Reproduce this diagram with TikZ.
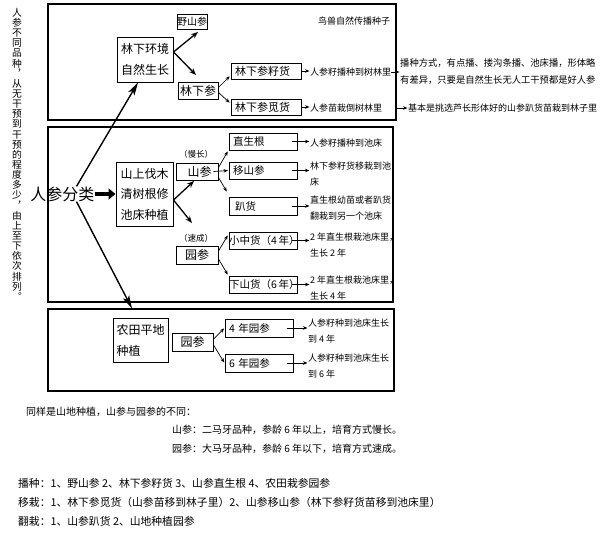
\documentclass[tikz,border=0pt]{standalone}
\usepackage{fontspec}
\setmainfont{Noto Sans CJK SC}
\usetikzlibrary{arrows.meta}
\begin{document}
\begin{tikzpicture}[x=1pt,y=-1pt,
  outer/.style={draw, line width=1.2pt, inner sep=0pt},
  box/.style={draw, line width=1pt, inner sep=0pt, align=center},
  sub/.style={draw, line width=1pt, inner xsep=4pt, inner ysep=0pt, text width=60pt, minimum height=17pt, align=left, font=\fontsize{10.5}{12}\selectfont},
  note/.style={anchor=west, inner sep=0pt, align=left, font=\fontsize{9}{16}\selectfont},
  lab/.style={inner sep=0pt, font=\fontsize{8.5}{10}\selectfont},
  bot/.style={anchor=west, inner sep=0pt, font=\fontsize{10}{12}\selectfont},
  sarr/.style={line width=0.7pt, -{Stealth[length=4.5pt,width=3.5pt]}, shorten >=0.5pt},
  marr/.style={line width=1.3pt, -{Stealth[length=7pt,width=5.5pt]}},
  barr/.style={line width=1.4pt, -{Stealth[length=13pt,width=7pt,inset=3pt]}},
  tarr/.style={line width=3.5pt, -{Triangle[length=7pt,width=11pt]}}
]
\fill[white] (0,0) rectangle (600,538);
\useasboundingbox (0,0) rectangle (600,538);

% vertical left text
\node[inner sep=0pt, anchor=north, align=center, font=\fontsize{9.8}{10.14}\selectfont] (vt) at (17,8)
 {人\\参\\不\\同\\品\\种\\︐\\从\\无\\干\\预\\到\\干\\预\\的\\程\\度\\多\\少\\︐\\由\\上\\至\\下\\依\\次\\排\\列\\︒};

% outer boxes
\node[outer, minimum width=348pt, minimum height=116pt] (B1) at (222,62) {};
\node[outer, minimum width=345pt, minimum height=175pt] (B2) at (220.5,214.5) {};
\node[outer, minimum width=346pt, minimum height=82pt] (B3) at (221,350) {};

% ---- box 1
\node[box, font=\fontsize{10}{12}\selectfont, minimum width=30pt, minimum height=15pt] (ysc) at (192,21.5) {野山参};
\node[box, font=\fontsize{12}{21}\selectfont, minimum width=56pt, minimum height=45pt] (lxhj) at (145,59.5) {林下环境\\自然生长};
\node[box, font=\fontsize{12}{14}\selectfont, minimum width=40pt, minimum height=17pt] (lxs) at (198,90.5) {林下参};
\node[sub, text width=62pt, minimum height=16pt, font=\fontsize{11}{12}\selectfont] (zh1) at (266,71) {林下参籽货};
\node[sub, text width=62pt, minimum height=16pt, font=\fontsize{11}{12}\selectfont] (mh1) at (266,107) {林下参觅货};
\node[inner sep=0pt, font=\fontsize{9}{10}\selectfont] (nsz) at (354,21) {鸟兽自然传播种子};
\node[note] (n1) at (310,72) {人参籽播种到树林里};
\node[note, font=\fontsize{9.3}{17}\selectfont] (n1b) at (400,71.5) {播种方式，有点播、搂沟条播、池床播，形体略\\有差异，只要是自然生长无人工干预都是好人参};
\node[note] (n2) at (310,108) {人参苗栽倒树林里};
\node[note] (n2b) at (408,108) {基本是挑选芦长形体好的山参趴货苗栽到林子里};

\coordinate (t1) at (198,32);
\coordinate (t2) at (196,75);
\coordinate (t3) at (230,76);
\coordinate (t4) at (230,103);
\draw[marr] ([yshift=7.5pt]lxhj.east) -- (t1);
\draw[marr] ([yshift=7.5pt]lxhj.east) -- (t2);
\draw[sarr] ([yshift=3pt]lxs.east) -- (t3);
\draw[sarr] ([yshift=-2pt]lxs.east) -- (t4);
\draw[sarr] (zh1.east) -- (zh1.east -| n1.west);
\draw[sarr] (n1.east) -- (n1.east -| n1b.west);
\draw[sarr] (mh1.east) -- (mh1.east -| n2.west);
\draw[sarr] ([xshift=13pt]n2.east) -- (n2.east -| n2b.west);

% ---- box 2
\node[inner sep=0pt, font=\fontsize{16}{18}\selectfont] (rs) at (62.5,194) {人参分类};
\node[box, font=\fontsize{12}{20.5}\selectfont, minimum width=57pt, minimum height=64pt] (sf) at (144.5,194) {山上伐木\\清树根修\\池床种植};
\node[box, font=\fontsize{12}{14}\selectfont, minimum width=42pt, minimum height=17pt] (sc) at (197,171.5) {\hspace*{5pt}山参};
\node[box, font=\fontsize{12}{14}\selectfont, minimum width=42pt, minimum height=18pt] (yc) at (197,255) {园参};
\node[lab] (ml) at (196,154) {（慢长）};
\node[lab] (scl) at (196,238) {（速成）};
\node[sub] (zsg) at (263,141.5) {直生根};
\node[sub] (ysz) at (263,170.5) {移山参};
\node[sub, minimum height=18pt] (ph) at (263,206) {\hspace*{2pt}趴货};
\node[sub] (xzh) at (263,240.5) {\hspace*{-4pt}\mbox{小中货（4\,年）}};
\node[sub] (xsh) at (263,284.5) {\hspace*{-4pt}\mbox{下山货（6\,年）}};
\node[note] (m1) at (310,143) {人参籽播种到池床};
\node[note] (m2) at (310,174) {林下参籽货移栽到池\\床};
\node[note] (m3) at (310,208) {直生根幼苗或者趴货\\翻栽到另一个池床};
\node[note] (m4) at (310,245) {2 年直生根栽池床里，\\生长 2 年};
\node[note] (m5) at (310,288) {2 年直生根栽池床里，\\生长 4 年};

\draw[tarr] (rs.east) -- (sf.west);
\draw[barr] ([xshift=14pt]rs.north) -- ([xshift=-7pt]lxhj.south);
\draw[barr] ([xshift=14pt]rs.south) -- ([xshift=-89pt]B3.north);

\coordinate (t5) at (194,181);
\coordinate (t6) at (192,223);
\coordinate (t7) at (228,151);
\coordinate (t8) at (227,192);
\coordinate (t9) at (228,235);
\coordinate (t10) at (228,275);
\draw[marr] ([yshift=-6pt]sf.east) -- (t5);
\draw[marr] ([yshift=-6pt]sf.east) -- (t6);
\draw[sarr] ([yshift=4pt]sc.east) -- (t7);
\draw[sarr] ([xshift=-5pt]sc.east) -- (ysz.west);
\draw[sarr] ([yshift=-6pt]sc.east) -- (t8);
\draw[sarr] ([yshift=4pt]yc.east) -- (t9);
\draw[sarr] ([yshift=-4pt]yc.east) -- (t10);
\draw[sarr] ([xshift=-6pt]zsg.east) -- (zsg.east -| m1.west);
\draw[sarr] ([xshift=-6pt]ysz.east) -- (ysz.east -| m2.west);
\draw[sarr] ([xshift=-6pt]ph.east) -- (ph.east -| m3.west);
\draw[sarr] ([xshift=-6pt]xzh.east) -- (xzh.east -| m4.west);
\draw[sarr] ([xshift=-6pt]xsh.east) -- (xsh.east -| m5.west);

% ---- box 3
\node[box, align=left, text width=48pt, inner xsep=3.5pt, font=\fontsize{12}{21}\selectfont, minimum height=44pt] (nt) at (140.5,340) {农田平地\\种植};
\node[box, font=\fontsize{12}{14}\selectfont, minimum width=41pt, minimum height=18pt] (yc3) at (192.5,342) {园参};
\node[sub, minimum height=18pt] (s4) at (259,328) {4 年园参};
\node[sub, minimum height=18pt] (s6) at (259,363) {6 年园参};
\node[note] (p1) at (308,331) {人参籽种到池床生长\\到 4 年};
\node[note] (p2) at (308,366) {人参籽种到池床生长\\到 6 年};
\draw[sarr] ([yshift=3pt]yc3.east) -- (s4.west);
\draw[sarr] ([yshift=-3pt]yc3.east) -- (s6.west);
\draw[sarr] ([xshift=-7pt]s4.east) -- (s4.east -| p1.west);
\draw[sarr] ([xshift=-7pt]s6.east) -- (s6.east -| p2.west);

% ---- bottom text
\node[bot] (b1) at (26,412) {同样是山地种植，山参与园参的不同：};
\node[bot] (b2) at (172,430) {山参：二马牙品种，参龄 6 年以上，培育方式慢长。};
\node[bot] (b3) at (172,449) {园参：大马牙品种，参龄 6 年以下，培育方式速成。};
\node[bot, font=\fontsize{10.8}{12}\selectfont] (b4) at (18,483) {播种：1、野山参 2、林下参籽货 3、山参直生根 4、农田栽参园参};
\node[bot, font=\fontsize{10.8}{12}\selectfont] (b5) at (18,502) {移栽：1、林下参觅货（山参苗移到林子里）2、山参移山参（林下参籽货苗移到池床里）};
\node[bot, font=\fontsize{10.8}{12}\selectfont] (b6) at (18,521) {翻栽：1、山参趴货 2、山地种植园参};
\end{tikzpicture}
\end{document}
